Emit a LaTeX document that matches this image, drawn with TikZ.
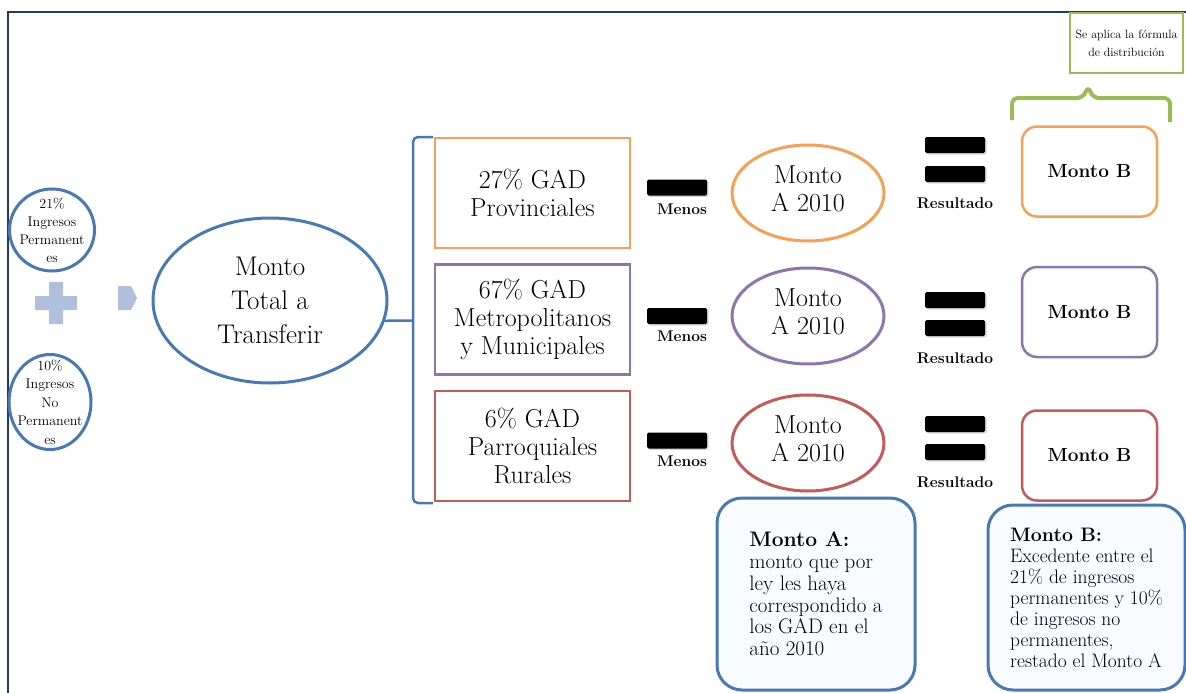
\documentclass[tikz,border=0pt]{standalone}
\usepackage{fontspec}
\usetikzlibrary{shapes.geometric,shadows}
\definecolor{bordeazul}{RGB}{74,120,180}
\definecolor{marco}{RGB}{36,58,96}
\definecolor{naranja}{RGB}{246,160,86}
\definecolor{morado}{RGB}{139,118,174}
\definecolor{rojo}{RGB}{197,90,88}
\definecolor{verde}{RGB}{155,187,89}
\definecolor{masclaro}{RGB}{176,192,220}
\definecolor{fondonota}{RGB}{248,251,255}
\begin{document}
\begin{tikzpicture}[x=1pt,y=-1pt,
    ellip/.style = {ellipse,draw=bordeazul,line width=3pt,fill=white,inner sep=0pt},
    etiq/.style = {align=center,inner sep=0pt},
    gadbox/.style = {rectangle,line width=2.5pt,fill=white,minimum width=195,minimum height=110,inner sep=0pt,align=center,font=\fontsize{26}{28}\selectfont},
    bar/.style = {rectangle,fill=black,minimum width=60,minimum height=16,inner sep=0pt,rounded corners=1.5,drop shadow={shadow xshift=1.5pt,shadow yshift=-1.5pt,opacity=.3}},
    signo/.style = {inner sep=0pt,font=\bfseries\fontsize{15.5}{17}\selectfont},
    montob/.style = {rectangle,rounded corners=15,line width=2.5pt,fill=white,minimum width=135,minimum height=90,inner sep=0pt,font=\bfseries\fontsize{19}{21}\selectfont},
    nota/.style = {rectangle,rounded corners=25,draw=bordeazul,line width=3pt,fill=fondonota,inner sep=0pt,align=left}]
\fill[white] (0,0) rectangle (1186,693);
\useasboundingbox (0,0) rectangle (1186,693);
\draw[marco,line width=2pt] (1186,12) -- (8,12) -- (8,693);

\node[ellip,minimum width=85,minimum height=82] (perm) at (52,230) {};
\node[etiq,font=\fontsize{14}{18}\selectfont] (permtxt) at (perm) {21\%\\Ingresos\\Permanent\\es};
\node[ellip,minimum width=82,minimum height=95] (noperm) at (50,402) {};
\node[etiq,font=\fontsize{14}{18.5}\selectfont] (nopermtxt) at (noperm) {10\%\\Ingresos\\No\\Permanent\\es};
\fill[masclaro] (49,282) -- (63,282) -- (63,296) -- (77,296) -- (77,310) -- (63,310) -- (63,324) -- (49,324) -- (49,310) -- (35,310) -- (35,296) -- (49,296) -- cycle;
\fill[masclaro] (118,286) -- (131,286) -- (137,298) -- (131,310) -- (118,310) -- cycle;

\node[ellip,minimum width=234,minimum height=165] (total) at (270,300.5) {};
\node[etiq,font=\fontsize{27}{34}\selectfont] (totaltxt) at (total) {Monto\\Total a\\Transferir};

\coordinate (llavesup) at (433,137);
\coordinate (llavemed) at (413,320.5);
\coordinate (llaveinf) at (433,503);
\draw[bordeazul,line width=2.5pt,rounded corners=5] (llavesup) -- (413,137) -- (413,503) -- (llaveinf);
\draw[bordeazul,line width=2.5pt] (total.-10) -- (llavemed);

\foreach \txt/\col/\yb/\ye/\ym/\yp/\yq/\yr/\ys/\yB [count=\j] in {
    {27\% GAD\\Provinciales}/naranja/193/193/187.5/209/145/174/203/171.5,
    {67\% GAD\\Metropolitanos\\y Municipales}/morado/319.5/316/316/336/300/328/358/312,
    {6\% GAD\\Parroquiales\\Rurales}/rojo/446/443/440.5/461/424/452/482/455.5}
{
    \node[gadbox,draw=\col] (gad\j) at (532.5,\yb) {\txt};
    \node[bar] (menos\j) at (677,\ym) {};
    \node[signo] (menostxt\j) at (682,\yp) {Menos};
    \node[ellip,draw=\col,minimum width=152,minimum height=96] (ma\j) at (808,\ye) {};
    \node[etiq,yshift=4pt,font=\fontsize{26}{28}\selectfont] (matxt\j) at (ma\j) {Monto\\A 2010};
    \node[bar] (igualA\j) at (955,\yq) {};
    \node[bar] (igualB\j) at (955,\yr) {};
    \node[signo] (restxt\j) at (955,\ys) {Resultado};
    \node[montob,draw=\col] (mb\j) at (1089.5,\yB) {Monto B};
}

\node[rectangle,draw=verde,line width=2pt,fill=white,minimum width=113,minimum height=60,inner sep=0pt,align=center,font=\fontsize{12}{18}\selectfont] (formula) at (1126.5,43) {Se aplica la fórmula\\de distribución};
\coordinate (verdeizq) at (1012,120);
\coordinate (verdeder) at (1170,122);
\draw[verde,line width=4pt,rounded corners=6] (verdeizq) -- (1012,98) -- (1083,98) -- (1088,86) -- (1093,98) -- (1170,98) -- (verdeder);

\node[nota,minimum width=198,minimum height=192,font=\fontsize{21}{21.7}\selectfont] (notaA) at (816,594) {\textbf{Monto A:}\\monto que por\\ley les haya\\correspondido a\\los GAD en el\\año 2010};
\node[nota,minimum width=197,minimum height=185,font=\fontsize{19.5}{21}\selectfont] (notaB) at (1086.5,597.5) {\textbf{Monto B:}\\Excedente entre el\\21\% de ingresos\\permanentes y 10\%\\de ingresos no\\permanentes,\\restado el Monto A};
\end{tikzpicture}
\end{document}
